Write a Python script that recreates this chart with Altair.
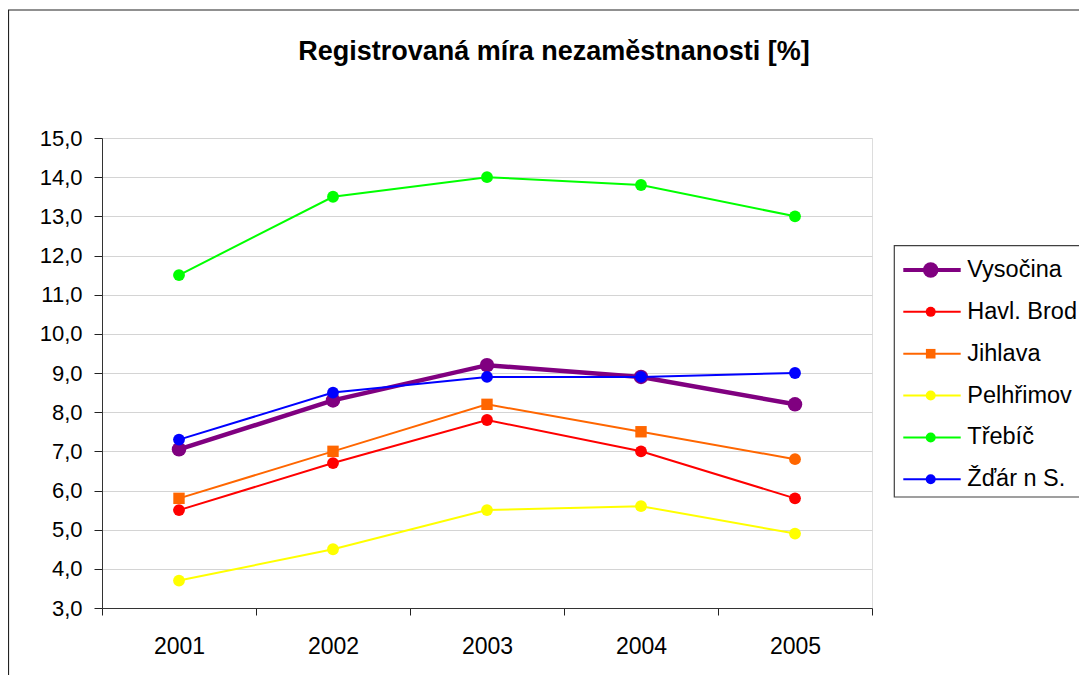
import altair as alt
import pandas as pd

# ---- data ----
years = ["2001", "2002", "2003", "2004", "2005"]
series_names = ["Vysočina", "Havl. Brod", "Jihlava", "Pelhřimov", "Třebíč", "Žďár n S."]
vysocina = [7.05, 8.3, 9.2, 8.9, 8.2]
havl_brod = [5.5, 6.7, 7.8, 7.0, 5.8]
jihlava = [5.8, 7.0, 8.2, 7.5, 6.8]
pelhrimov = [3.7, 4.5, 5.5, 5.6, 4.9]
trebic = [11.5, 13.5, 14.0, 13.8, 13.0]
zdar = [7.3, 8.5, 8.9, 8.9, 9.0]
y_ticks = [3, 4, 5, 6, 7, 8, 9, 10, 11, 12, 13, 14, 15]
title_text = "Registrovaná míra nezaměstnanosti [%]"

# ---- styles ----
colors = ["#800080", "#FF0000", "#FF6600", "#FFFF00", "#00FF00", "#0000FF"]
marker_style = {"Jihlava": ["square", "square", "square", "square", "circle"]}
legend_shapes = ["circle", "circle", "square", "circle", "circle", "circle"]
legend_sizes = [240, 100, 92, 100, 100, 100]
legend_widths = [4, 2, 2, 2, 2, 2]
FONT = "Liberation Sans"

values = [vysocina, havl_brod, jihlava, pelhrimov, trebic, zdar]
rows = []
for name, vals in zip(series_names, values):
    kinds = marker_style.get(name, ["circle"] * len(years))
    for yr, v, k in zip(years, vals, kinds):
        rows.append({"series": name, "year": yr, "value": v, "marker": k})
df = pd.DataFrame(rows)
legend_df = pd.DataFrame({"series": series_names})

W, H = 770, 470

x_enc = alt.X(
    "year:O",
    scale=alt.Scale(type="band", paddingInner=0, paddingOuter=0),
    axis=alt.Axis(
        title=None, labelAngle=0, tickBand="extent", grid=False,
        tickSize=7, labelPadding=20, labelFontSize=23, labelFont=FONT,
        labelColor="black", tickColor="#222222", domainColor="#333333",
    ),
)
y_enc = alt.Y(
    "value:Q",
    scale=alt.Scale(domain=[3, 15], nice=False, zero=False),
    axis=alt.Axis(
        title=None, values=y_ticks,
        labelExpr="replace(format(datum.value, '.1f'), '.', ',')",
        tickSize=8, labelPadding=12, labelFontSize=22, labelFont=FONT,
        labelColor="black", tickColor="#222222", domainColor="#333333",
        gridColor="#d4d4d4", gridWidth=1,
    ),
)
color_enc = alt.Color("series:N", scale=alt.Scale(domain=series_names, range=colors), legend=None)

base = alt.Chart(df)

# outer chart frame (decoration)
frame = alt.Chart(alt.Data(values=[{"f": 1}])).mark_rect(
    filled=False, stroke="#222222", strokeWidth=1.2
).encode(
    x=alt.value(-93.5), x2=alt.value(1060), y=alt.value(-128), y2=alt.value(620)
)

vys = base.transform_filter(alt.datum.series == "Vysočina")
others = base.transform_filter(alt.datum.series != "Vysočina")

vys_line = vys.mark_line(strokeWidth=4.5).encode(x=x_enc, y=y_enc, color=color_enc)
vys_pts = vys.mark_point(filled=True, opacity=1, size=210, shape="circle").encode(
    x=x_enc, y=y_enc, color=color_enc)
oth_line = others.mark_line(strokeWidth=2).encode(x=x_enc, y=y_enc, color=color_enc)
oth_circ = others.transform_filter(alt.datum.marker == "circle").mark_point(
    filled=True, opacity=1, size=140, shape="circle").encode(x=x_enc, y=y_enc, color=color_enc)
oth_sq = others.transform_filter(alt.datum.marker == "square").mark_point(
    filled=True, opacity=1, size=130, shape="square").encode(x=x_enc, y=y_enc, color=color_enc)

data_layers = alt.layer(vys_line, vys_pts, oth_line, oth_circ, oth_sq)

# ---- legend (drawn to the right of the plot) ----
leg_y = alt.Y("series:N", scale=alt.Scale(type="point", domain=series_names,
                                          range=[132, 341.3], padding=0), axis=None)
leg_base = alt.Chart(legend_df)
leg_box = alt.Chart(alt.Data(values=[{"f": 1}])).mark_rect(
    fill="white", stroke="#404040", strokeWidth=1.2
).encode(x=alt.value(792.3), x2=alt.value(1000), y=alt.value(107.7), y2=alt.value(359))
leg_rules = leg_base.mark_rule().encode(
    x=alt.value(801.3), x2=alt.value(858.7), y=leg_y, color=color_enc,
    strokeWidth=alt.StrokeWidth("series:N", scale=alt.Scale(type="ordinal", domain=series_names,
                                                           range=legend_widths), legend=None),
)
leg_pts = leg_base.mark_point(filled=True, opacity=1).encode(
    x=alt.value(828.7), y=leg_y, color=color_enc,
    shape=alt.Shape("series:N", scale=alt.Scale(domain=series_names, range=legend_shapes), legend=None),
    size=alt.Size("series:N", scale=alt.Scale(type="ordinal", domain=series_names,
                                              range=legend_sizes), legend=None),
)
leg_text = leg_base.mark_text(align="left", baseline="middle", font=FONT,
                              fontSize=23.5, color="black").encode(
    x=alt.value(865.3), y=leg_y, text="series:N")
legend_layers = alt.layer(leg_box, leg_rules, leg_pts, leg_text)

chart = alt.layer(
    frame, data_layers, legend_layers
).resolve_scale(
    y="independent"
).properties(
    width=W, height=H,
    title=alt.TitleParams(
        title_text, font=FONT, fontSize=27, fontWeight="bold", color="black",
        anchor="middle", frame="group", dx=67, offset=-57,
    ),
    padding={"left": 94, "top": 130, "right": 207, "bottom": 67},
    autosize=alt.AutoSizeParams(type="none"),
).configure_view(
    stroke="#c4c4c4", strokeWidth=1.5
).configure(background="white")

chart.save("out.html", embed_options={"renderer": "svg", "actions": False})
